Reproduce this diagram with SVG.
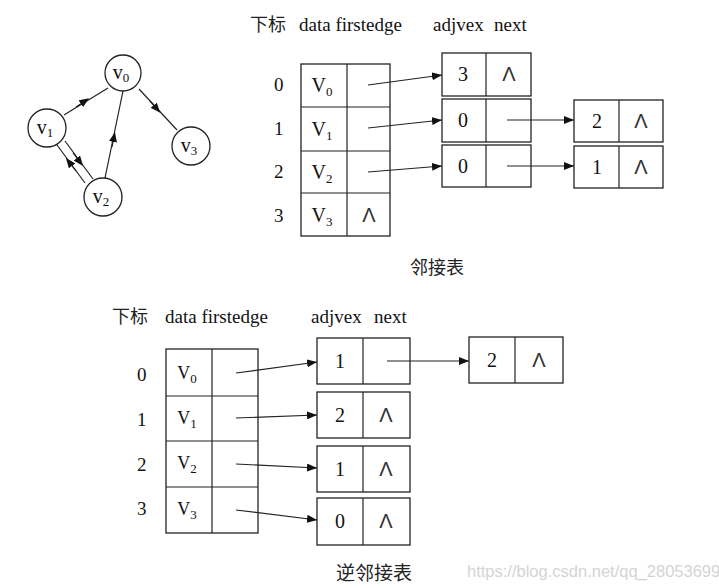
<svg xmlns="http://www.w3.org/2000/svg" width="719" height="588" viewBox="0 0 719 588">
<defs>
<marker id="ah" markerWidth="10" markerHeight="8" refX="10" refY="4" orient="auto" markerUnits="userSpaceOnUse"><path d="M0,0 L10,4 L0,8 z" fill="#111"/></marker>
<marker id="mid" markerWidth="10" markerHeight="8" refX="5" refY="4" orient="auto" markerUnits="userSpaceOnUse"><path d="M0,0 L10,4 L0,8 z" fill="#111"/></marker>
</defs>
<style>
.c{fill:#fff;stroke:#222;stroke-width:1.3}
.b{fill:#fff;stroke:#222;stroke-width:1.3}
.l{stroke:#222;stroke-width:1.2;fill:none}
.t{font-family:"Liberation Serif","Noto Sans CJK SC",serif;font-size:19px;fill:#111}
.cj{font-family:"Noto Sans CJK SC",serif;font-size:17px;fill:#222}
.n{font-family:"Liberation Serif",serif;font-size:20px;fill:#111;text-anchor:middle}
.s{font-size:13px}
.nil{font-family:"Liberation Sans",sans-serif;font-size:20px;fill:#333;text-anchor:middle}
</style>
<rect width="719" height="588" fill="#fff"/>

<!-- graph -->
<g id="graph-edges">
<line class="l" x1="64" y1="115" x2="108" y2="88"/>
<path d="M76,107 L85,101" class="l" marker-end="url(#mid)"/>
<line class="l" x1="139" y1="89" x2="177" y2="130"/>
<path d="M150,101 L157,109" class="l" marker-end="url(#mid)"/>
<line class="l" x1="105" y1="178" x2="123" y2="91"/>
<path d="M112,147 L114,137" class="l" marker-end="url(#mid)"/>
<line class="l" x1="57" y1="145" x2="85" y2="183"/>
<line class="l" x1="65" y1="141" x2="93" y2="179"/>
<path d="M73,153 L80,162" class="l" marker-end="url(#mid)"/>
<path d="M76,171 L69,162" class="l" marker-end="url(#mid)"/>
</g>
<g id="gv0"><circle class="c" cx="123" cy="73" r="18"/><text class="n" x="121" y="79">v<tspan class="s" dy="3">0</tspan></text></g>
<g id="gv1"><circle class="c" cx="47" cy="128" r="19"/><text class="n" x="45" y="134">v<tspan class="s" dy="3">1</tspan></text></g>
<g id="gv2"><circle class="c" cx="103" cy="197" r="19"/><text class="n" x="101" y="203">v<tspan class="s" dy="3">2</tspan></text></g>
<g id="gv3"><circle class="c" cx="191" cy="146" r="19"/><text class="n" x="189" y="152">v<tspan class="s" dy="3">3</tspan></text></g>

<!-- top adjacency list -->
<g id="top-headers">
<text class="cj" x="250" y="31" style="font-size:18px">下标</text>
<text class="t" x="299" y="31">data firstedge</text>
<text class="t" x="433" y="31">adjvex</text>
<text class="t" x="494" y="31">next</text>
<text class="t" x="274" y="91">0</text>
<text class="t" x="274" y="135">1</text>
<text class="t" x="274" y="178">2</text>
<text class="t" x="274" y="222">3</text>
</g>
<g id="top-vertex-table">
<rect class="b" x="301" y="64" width="89" height="172"/>
<line class="l" x1="347" y1="64" x2="347" y2="236"/>
<line class="l" x1="301" y1="107" x2="390" y2="107"/>
<line class="l" x1="301" y1="151" x2="390" y2="151"/>
<line class="l" x1="301" y1="193" x2="390" y2="193"/>
<text class="n" x="322" y="92">V<tspan class="s" dy="4">0</tspan></text>
<text class="n" x="322" y="136">V<tspan class="s" dy="4">1</tspan></text>
<text class="n" x="322" y="179">V<tspan class="s" dy="4">2</tspan></text>
<text class="n" x="322" y="222">V<tspan class="s" dy="4">3</tspan></text>
<text class="nil" x="369" y="222">Λ</text>
</g>
<g id="top-e0"><rect class="b" x="442" y="53" width="89" height="43"/><line class="l" x1="486" y1="53" x2="486" y2="96"/><text class="n" x="463" y="81">3</text><text class="nil" x="509" y="81">Λ</text></g>
<g id="top-e1"><rect class="b" x="442" y="99" width="89" height="43"/><line class="l" x1="486" y1="99" x2="486" y2="142"/><text class="n" x="463" y="127">0</text></g>
<g id="top-e2"><rect class="b" x="442" y="145" width="89" height="42"/><line class="l" x1="486" y1="145" x2="486" y2="187"/><text class="n" x="463" y="173">0</text></g>
<g id="top-e3"><rect class="b" x="574" y="100" width="89" height="42"/><line class="l" x1="619" y1="100" x2="619" y2="142"/><text class="n" x="597" y="128">2</text><text class="nil" x="641" y="128">Λ</text></g>
<g id="top-e4"><rect class="b" x="574" y="146" width="89" height="42"/><line class="l" x1="619" y1="146" x2="619" y2="188"/><text class="n" x="597" y="174">1</text><text class="nil" x="641" y="174">Λ</text></g>
<g id="top-connectors">
<line class="l" x1="368" y1="85" x2="442" y2="75" marker-end="url(#ah)"/>
<line class="l" x1="368" y1="128" x2="442" y2="120" marker-end="url(#ah)"/>
<line class="l" x1="368" y1="172" x2="442" y2="166" marker-end="url(#ah)"/>
<line class="l" x1="507" y1="120" x2="574" y2="120" marker-end="url(#ah)"/>
<line class="l" x1="507" y1="166" x2="574" y2="166" marker-end="url(#ah)"/>
</g>
<text class="cj" x="410" y="274" style="font-size:18px">邻接表</text>

<!-- bottom inverse adjacency list -->
<g id="bot-headers">
<text class="cj" x="112" y="323" style="font-size:18px">下标</text>
<text class="t" x="165" y="323">data firstedge</text>
<text class="t" x="311" y="323">adjvex</text>
<text class="t" x="374" y="323">next</text>
<text class="t" x="137" y="381">0</text>
<text class="t" x="137" y="426">1</text>
<text class="t" x="137" y="471">2</text>
<text class="t" x="137" y="515">3</text>
</g>
<g id="bot-vertex-table">
<rect class="b" x="166" y="349" width="92" height="184"/>
<line class="l" x1="212" y1="349" x2="212" y2="533"/>
<line class="l" x1="166" y1="396" x2="258" y2="396"/>
<line class="l" x1="166" y1="441" x2="258" y2="441"/>
<line class="l" x1="166" y1="487" x2="258" y2="487"/>
<text class="n" x="187" y="379" style="font-size:18px">V<tspan class="s" dy="4">0</tspan></text>
<text class="n" x="187" y="424" style="font-size:18px">V<tspan class="s" dy="4">1</tspan></text>
<text class="n" x="187" y="469" style="font-size:18px">V<tspan class="s" dy="4">2</tspan></text>
<text class="n" x="187" y="515" style="font-size:18px">V<tspan class="s" dy="4">3</tspan></text>
</g>
<g id="bot-e0"><rect class="b" x="317" y="338" width="93" height="46"/><line class="l" x1="363" y1="338" x2="363" y2="384"/><text class="n" x="340" y="368">1</text></g>
<g id="bot-e1"><rect class="b" x="317" y="392" width="93" height="46"/><line class="l" x1="363" y1="392" x2="363" y2="438"/><text class="n" x="340" y="422">2</text><text class="nil" x="386" y="422">Λ</text></g>
<g id="bot-e2"><rect class="b" x="317" y="446" width="93" height="46"/><line class="l" x1="363" y1="446" x2="363" y2="492"/><text class="n" x="340" y="476">1</text><text class="nil" x="386" y="476">Λ</text></g>
<g id="bot-e3"><rect class="b" x="317" y="498" width="93" height="47"/><line class="l" x1="363" y1="498" x2="363" y2="545"/><text class="n" x="340" y="528">0</text><text class="nil" x="386" y="528">Λ</text></g>
<g id="bot-e4"><rect class="b" x="469" y="337" width="94" height="46"/><line class="l" x1="515" y1="337" x2="515" y2="383"/><text class="n" x="492" y="367">2</text><text class="nil" x="539" y="367">Λ</text></g>
<g id="bot-connectors">
<line class="l" x1="236" y1="373" x2="317" y2="362" marker-end="url(#ah)"/>
<line class="l" x1="236" y1="418" x2="317" y2="415" marker-end="url(#ah)"/>
<line class="l" x1="236" y1="464" x2="317" y2="468" marker-end="url(#ah)"/>
<line class="l" x1="236" y1="510" x2="317" y2="520" marker-end="url(#ah)"/>
<line class="l" x1="387" y1="361" x2="469" y2="361" marker-end="url(#ah)"/>
</g>
<text class="cj" x="336" y="580" style="font-size:19px">逆邻接表</text>
<text x="467" y="577" style="font-family:'Liberation Sans',sans-serif;font-size:16.5px;fill:#d4d4d4">https://blog.csdn.net/qq_28053699</text>
</svg>
